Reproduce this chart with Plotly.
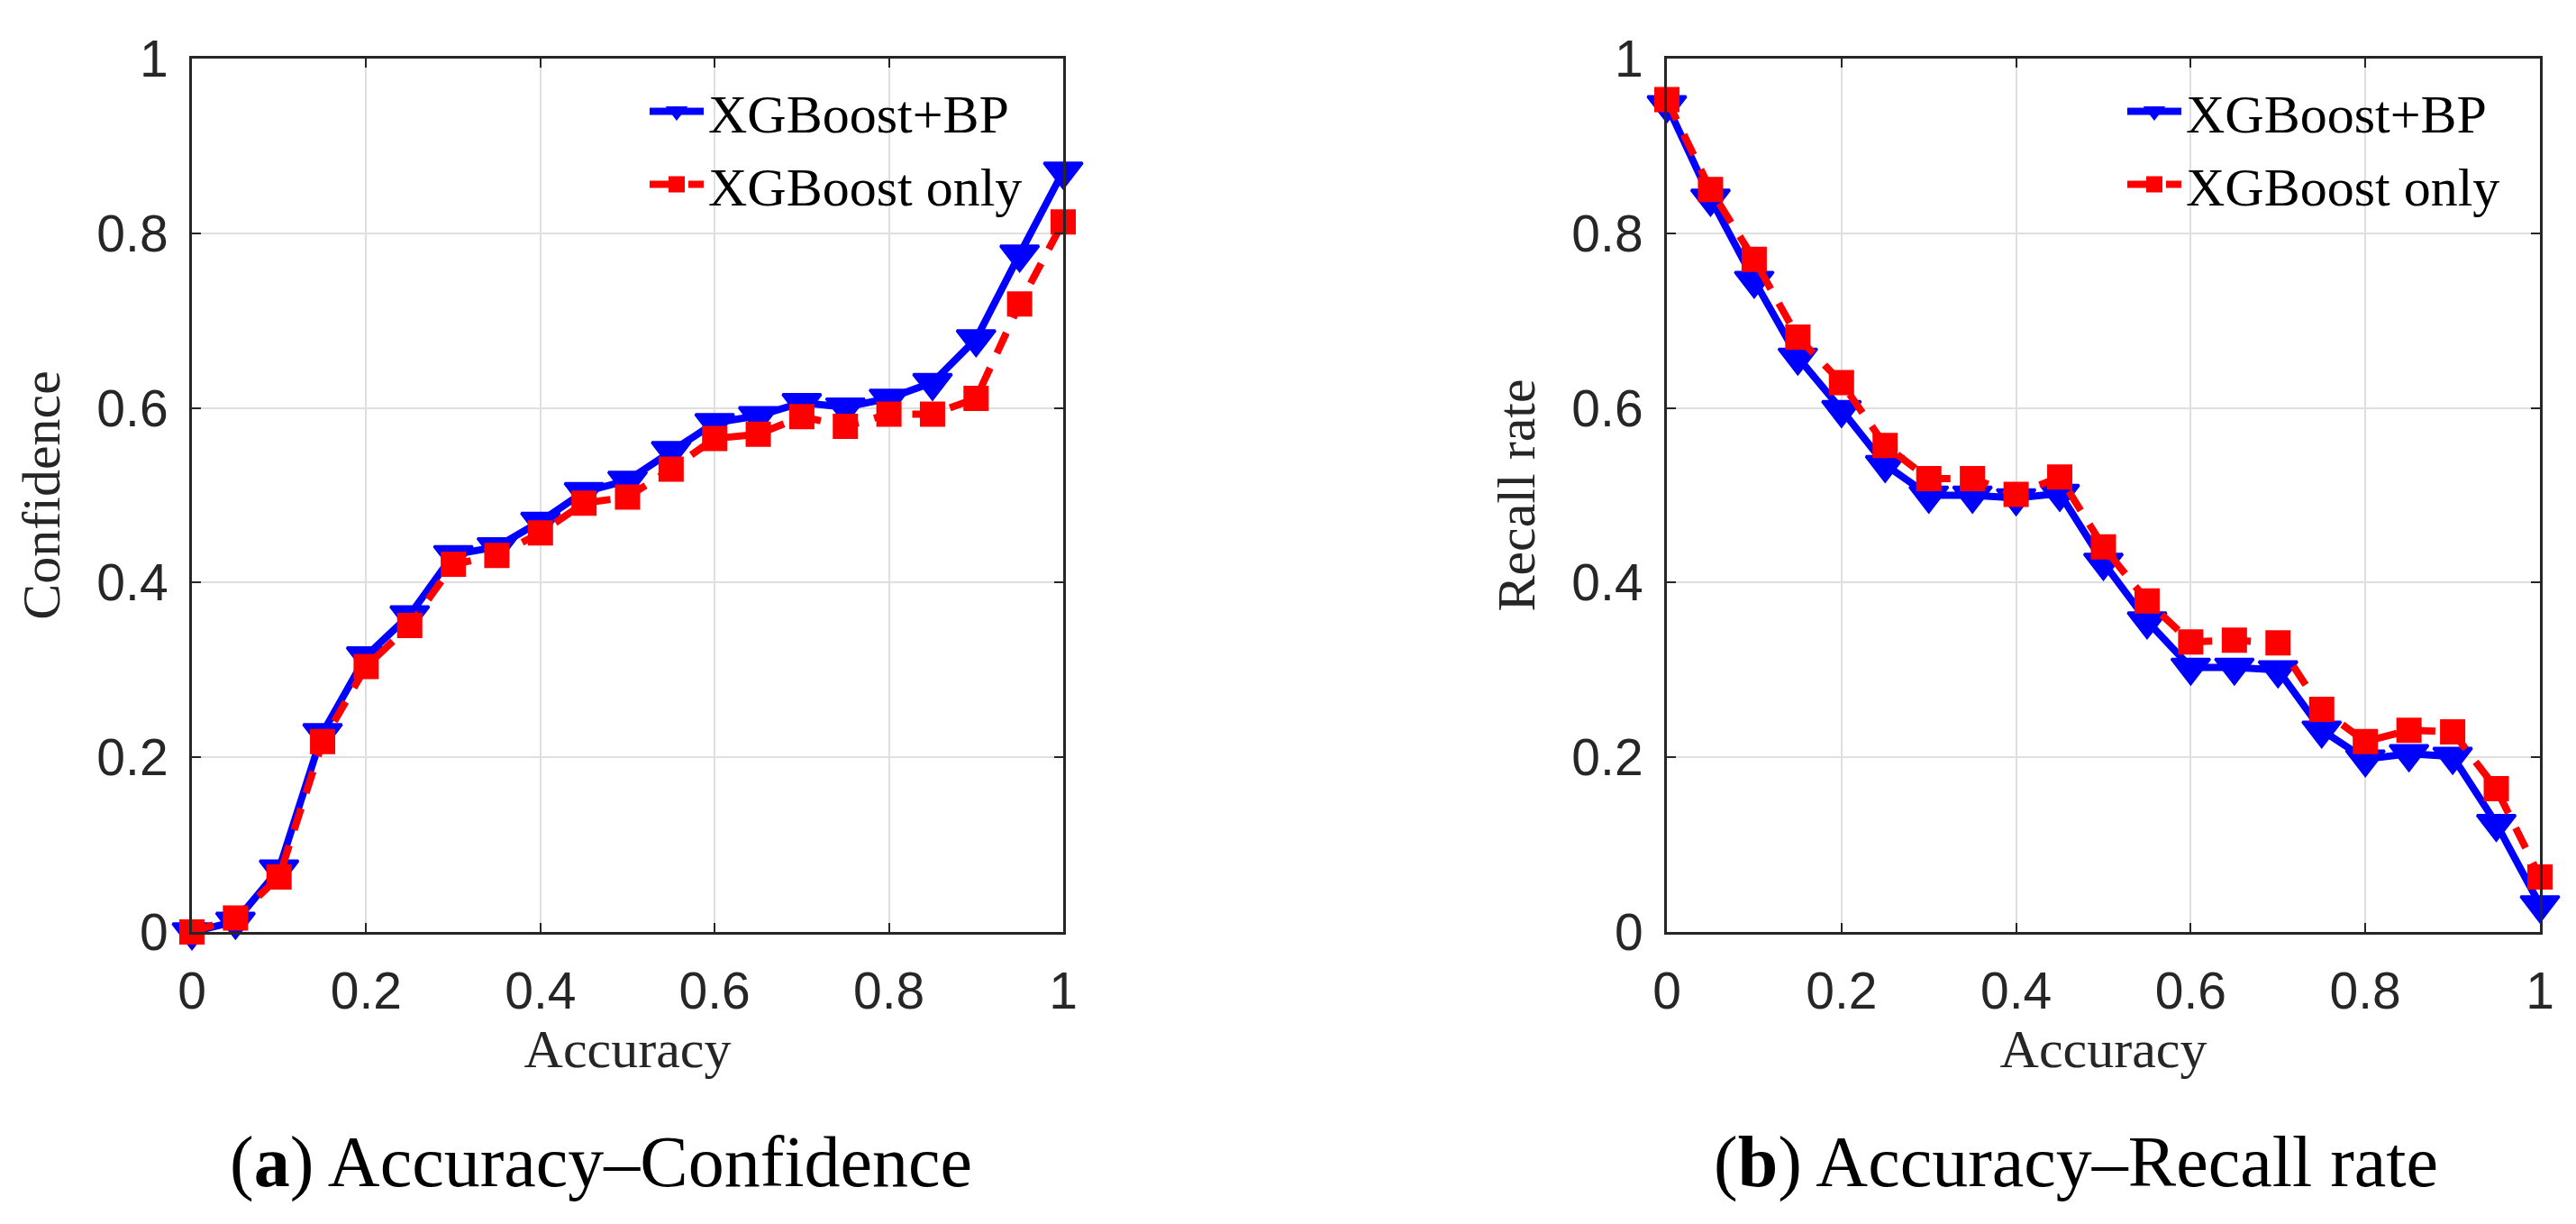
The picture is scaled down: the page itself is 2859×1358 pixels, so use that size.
import plotly.graph_objects as go
from plotly.subplots import make_subplots

# accuracy thresholds (shared x)
accuracy = [0, 0.05, 0.1, 0.15, 0.2, 0.25, 0.3, 0.35, 0.4, 0.45, 0.5,
            0.55, 0.6, 0.65, 0.7, 0.75, 0.8, 0.85, 0.9, 0.95, 1.0]

# (a) confidence
conf_xgb_bp = [0.0, 0.012, 0.072, 0.228, 0.316, 0.363, 0.432, 0.441, 0.470, 0.504, 0.517,
               0.551, 0.583, 0.591, 0.606, 0.601, 0.611, 0.629, 0.679, 0.776, 0.871]
conf_xgb = [0.0, 0.016, 0.063, 0.218, 0.304, 0.351, 0.421, 0.431, 0.457, 0.491, 0.498,
            0.530, 0.565, 0.570, 0.590, 0.579, 0.593, 0.593, 0.611, 0.719, 0.813]

# (b) recall rate
recall_xgb_bp = [0.947, 0.840, 0.746, 0.658, 0.598, 0.535, 0.500, 0.500, 0.497, 0.502, 0.423,
                 0.356, 0.303, 0.303, 0.300, 0.231, 0.198, 0.204, 0.201, 0.124, 0.031]
recall_xgb = [0.953, 0.850, 0.770, 0.681, 0.629, 0.557, 0.519, 0.519, 0.501, 0.521, 0.441,
              0.379, 0.332, 0.334, 0.331, 0.255, 0.218, 0.231, 0.229, 0.164, 0.063]

series_names = ['XGBoost+BP', 'XGBoost only']
y_titles = ['Confidence', 'Recall rate']
captions = ['(<b>a</b>) Accuracy\u2013Confidence', '(<b>b</b>) Accuracy\u2013Recall rate']
tick_vals = [0, 0.2, 0.4, 0.6, 0.8, 1]
tick_text = ['0', '0.2', '0.4', '0.6', '0.8', '1']

W, H = 2859, 1358
TICKFONT = dict(family='Liberation Sans', size=57, color='#262626')
SERIF = 'Liberation Serif'

fig = make_subplots(rows=1, cols=2)

panels = [(conf_xgb_bp, conf_xgb), (recall_xgb_bp, recall_xgb)]
for i, (blue, red) in enumerate(panels):
    col = i + 1
    leg = 'legend' if i == 0 else 'legend2'
    fig.add_trace(go.Scatter(x=accuracy, y=blue, mode='lines+markers', name=series_names[0],
                             line=dict(color='#0000ff', width=8),
                             marker=dict(symbol='triangle-down', size=37, color='#0000ff',
                                         line=dict(color='#0000ff', width=3)),
                             cliponaxis=False, legend=leg), row=1, col=col)
    fig.add_trace(go.Scatter(x=accuracy, y=red, mode='lines+markers', name=series_names[1],
                             line=dict(color='#ff0000', width=8, dash='25px,18px'),
                             marker=dict(symbol='square', size=26, color='#ff0000',
                                         line=dict(color='#ff0000', width=2)),
                             cliponaxis=False, legend=leg), row=1, col=col)

x_domains = [[205 / W, 1172 / W], [1842 / W, 2811 / W]]
y_domain = [1 - 1026 / H, 1 - 57 / H]

for i in range(2):
    col = i + 1
    fig.update_xaxes(domain=x_domains[i], range=[0, 1], tickvals=tick_vals, ticktext=tick_text,
                     tickfont=TICKFONT, ticks='inside', ticklen=10, tickwidth=2, tickcolor='#262626',
                     showline=True, linewidth=3, linecolor='#262626', mirror='ticks',
                     showgrid=True, gridcolor='#dfdfdf', gridwidth=2, zeroline=False,
                     ticklabelstandoff=14, automargin=False,
                     title=dict(text='Accuracy', font=dict(family=SERIF, size=60, color='#262626'),
                                standoff=4),
                     row=1, col=col)
    fig.update_yaxes(domain=y_domain, range=[0, 1], tickvals=tick_vals, ticktext=tick_text,
                     tickfont=TICKFONT, ticks='inside', ticklen=10, tickwidth=2, tickcolor='#262626',
                     showline=True, linewidth=3, linecolor='#262626', mirror='ticks',
                     showgrid=True, gridcolor='#dfdfdf', gridwidth=2, zeroline=False,
                     ticklabelstandoff=12, automargin=False,
                     title=dict(text=y_titles[i], font=dict(family=SERIF, size=60, color='#262626'),
                                standoff=22),
                     row=1, col=col)

legend_style = dict(font=dict(family=SERIF, size=60, color='black'), bgcolor='rgba(255,255,255,0)',
                    borderwidth=0, xanchor='right', yanchor='top', tracegroupgap=0,
                    itemwidth=60, itemsizing='trace')
fig.update_layout(
    width=W, height=H,
    margin=dict(l=0, r=0, t=0, b=0),
    paper_bgcolor='white', plot_bgcolor='white',
    legend=dict(x=1132 / W, y=1 - 70 / H, **legend_style),
    legend2=dict(x=2772 / W, y=1 - 70 / H, **legend_style),
)

for i, cap in enumerate(captions):
    fig.add_annotation(text=cap, xref='paper', yref='paper',
                       x=[659 / W, 2296 / W][i], y=1 - 1281 / H,
                       xanchor='center', yanchor='middle', showarrow=False,
                       font=dict(family=SERIF, size=80, color='black'))

fig.write_html("out.html")
